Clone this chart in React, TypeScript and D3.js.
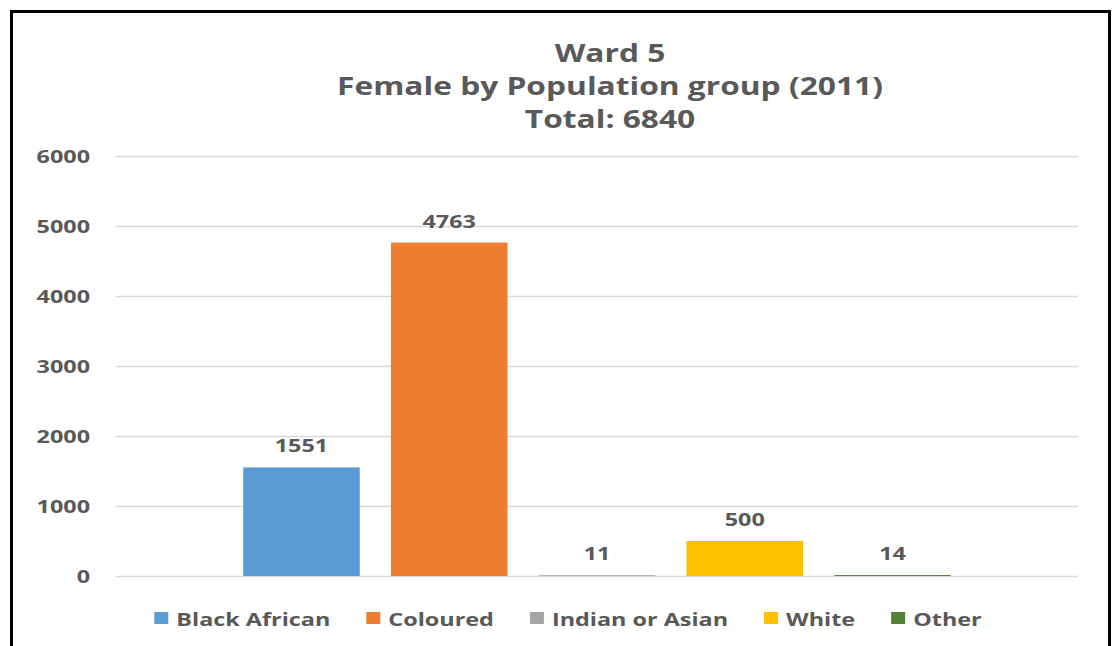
import * as d3 from 'd3';
import React, { useEffect, useRef } from 'react';

const titleLines = ['Ward 5', 'Female by Population group (2011)', 'Total: 6840'];
const groups = ['Black African', 'Coloured', 'Indian or Asian', 'White', 'Other'];
const values = [1551, 4763, 11, 500, 14];
const colors = ['#5B9BD5', '#ED7D31', '#A5A5A5', '#FFC000', '#548235'];
const yTicks = [0, 1000, 2000, 3000, 4000, 5000, 6000];

const W = 1114;
const H = 646;
const STRETCH = 1.3;
const FONT = "'Open Sans', sans-serif";
const GREY = '#595959';

const App = () => {
  const svgRef = useRef(null);

  useEffect(() => {
    const svg = d3.select(svgRef.current);
    svg.selectAll('*').remove();

    const left = 116;
    const right = 1078;
    const top = 156;
    const bottom = 576;

    const y = d3.scaleLinear().domain([0, 6000]).range([bottom, top]);
    const x = d3
      .scaleBand()
      .domain(groups)
      .range([left, right])
      .paddingInner(0.2115)
      .paddingOuter(0.861);

    // frame (bottom edge falls outside the picture)
    svg
      .append('rect')
      .attr('x', 11.5)
      .attr('y', 11.5)
      .attr('width', 1098)
      .attr('height', 700)
      .attr('fill', '#fff')
      .attr('stroke', '#000')
      .attr('stroke-width', 3);

    const stretchText = (g, tx, ty, txt, size, anchor) =>
      g
        .append('text')
        .attr('transform', `translate(${tx},${ty}) scale(${STRETCH},1)`)
        .attr('text-anchor', anchor)
        .attr('font-family', FONT)
        .attr('font-weight', 700)
        .attr('font-size', size)
        .attr('fill', GREY)
        .text(txt);

    // title
    const titleY = [62, 95, 128];
    titleLines.forEach((t, i) => stretchText(svg, 610, titleY[i], t, 24.4, 'middle'));

    // y axis + gridlines
    const axis = svg
      .append('g')
      .attr('transform', `translate(${left},0)`)
      .call(
        d3
          .axisLeft(y)
          .tickValues(yTicks)
          .tickFormat(d3.format('d'))
          .tickSize(-(right - left))
          .tickPadding(0),
      );
    axis.select('.domain').remove();
    axis.selectAll('line').attr('stroke', '#d9d9d9').attr('stroke-width', 1.5);
    axis
      .selectAll('text')
      .attr('x', -26 / STRETCH)
      .attr('dy', '0.36em')
      .attr('transform', `scale(${STRETCH},1)`)
      .attr('font-family', FONT)
      .attr('font-weight', 700)
      .attr('font-size', 18)
      .attr('fill', GREY);

    // bars
    svg
      .append('g')
      .selectAll('rect')
      .data(values)
      .join('rect')
      .attr('x', (d, i) => x(groups[i]))
      .attr('y', (d) => y(d))
      .attr('width', x.bandwidth())
      .attr('height', (d) => y(0) - y(d))
      .attr('fill', (d, i) => colors[i]);

    // data labels
    const labels = svg.append('g');
    values.forEach((v, i) => {
      stretchText(labels, x(groups[i]) + x.bandwidth() / 2, y(v) - 15, String(v), 18, 'middle');
    });

    // legend
    const legend = svg.append('g');
    const items = groups.map((gname, i) => {
      const g = legend.append('g');
      g.append('rect')
        .attr('x', 0)
        .attr('y', -8)
        .attr('width', 14)
        .attr('height', 12)
        .attr('fill', colors[i]);
      const t = stretchText(g, 22, 6, gname, 18, 'start');
      const w = 22 + (t.node() as SVGTextElement).getComputedTextLength() * STRETCH;
      return { g, w };
    });
    const gap = 36;
    const total = d3.sum(items, (d) => d.w) + gap * (items.length - 1);
    let cx = 568 - total / 2;
    items.forEach((it) => {
      it.g.attr('transform', `translate(${cx},620)`);
      cx += it.w + gap;
    });
  }, []);

  return (
    <svg
      ref={svgRef}
      width={W}
      height={H}
      style={{ position: 'absolute', left: 0, top: 0 }}
    />
  );
};

export default App;
